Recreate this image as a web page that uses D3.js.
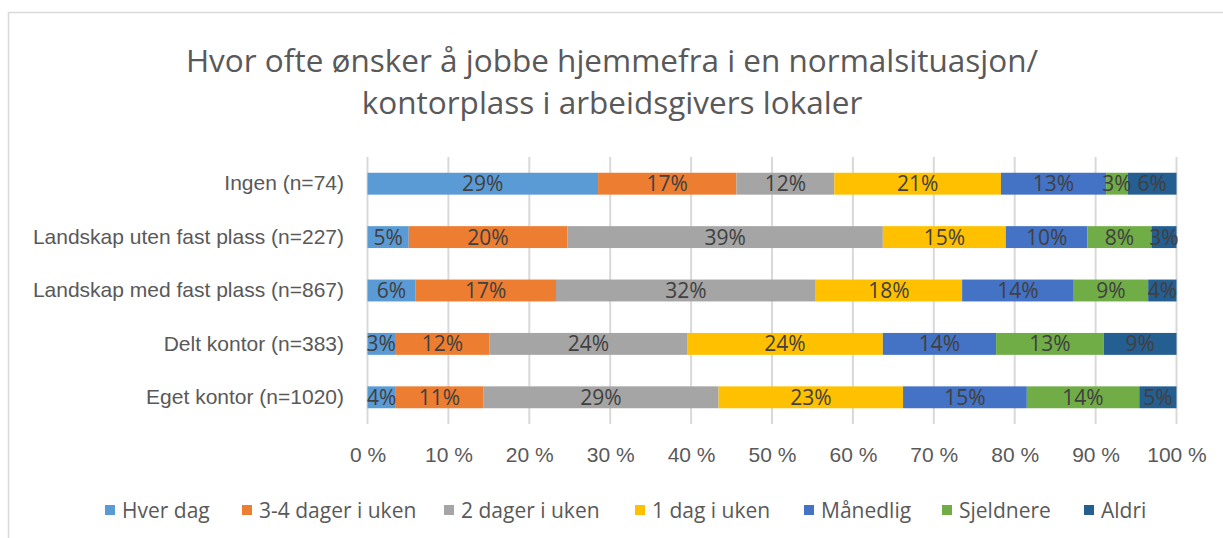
<!DOCTYPE html>
<html>
<head>
<meta charset="utf-8">
<script src="https://cdn.jsdelivr.net/npm/d3@7"></script>
<style>
  body { margin: 0; background: #fff; }
  svg { display: block; font-family: 'Open Sans', 'Noto Sans', sans-serif; }
</style>
</head>
<body>
<div class="chart"></div>
<script>
var categories = ['Ingen (n=74)', 'Landskap uten fast plass (n=227)', 'Landskap med fast plass (n=867)', 'Delt kontor (n=383)', 'Eget kontor (n=1020)'];
var seriesNames = ['Hver dag', '3-4 dager i uken', '2 dager i uken', '1 dag i uken', 'Månedlig', 'Sjeldnere', 'Aldri'];
var hverDag = [28.5, 5.1, 5.9, 3.4, 3.5];
var treFire = [17.1, 19.6, 17.4, 11.7, 10.8];
var toDager = [12.1, 39.0, 32.1, 24.4, 29.1];
var enDag = [20.6, 15.2, 18.1, 24.2, 22.8];
var maanedlig = [13.0, 10.1, 13.8, 14.0, 15.3];
var sjeldnere = [2.7, 7.9, 9.2, 13.3, 13.9];
var aldri = [6.0, 3.1, 3.5, 9.0, 4.6];
var xTicks = [0, 10, 20, 30, 40, 50, 60, 70, 80, 90, 100];

var colors = ['#5B9BD5', '#ED7D31', '#A5A5A5', '#FFC000', '#4472C4', '#70AD47', '#255E91'];
var seriesValues = [hverDag, treFire, toDager, enDag, maanedlig, sjeldnere, aldri];

var width = 1223,
  height = 538;

var svg = d3.select('.chart').append('svg')
  .attr('width', width)
  .attr('height', height);

// chart frame
svg.append('path')
  .attr('d', 'M8.5,' + height + 'V12.5H' + width)
  .attr('fill', 'none')
  .attr('stroke', '#d9d9d9')
  .attr('stroke-width', 1.5);

var title = svg.append('text')
  .attr('text-anchor', 'middle')
  .attr('fill', '#595959')
  .style('font-size', '31.5px');
title.append('tspan').attr('x', 612).attr('y', 72).text('Hvor ofte ønsker å jobbe hjemmefra i en normalsituasjon/');
title.append('tspan').attr('x', 612).attr('y', 114).text('kontorplass i arbeidsgivers lokaler');

var x = d3.scaleLinear().domain([0, 100]).range([367.5, 1176.5]);
var y = d3.scaleBand().domain(categories).range([157, 424]).paddingInner(0.59).paddingOuter(0.295);

// gridlines
svg.append('g')
  .selectAll('line')
  .data(xTicks)
  .enter()
  .append('line')
  .attr('x1', (d) => x(d))
  .attr('x2', (d) => x(d))
  .attr('y1', 157)
  .attr('y2', 424)
  .attr('stroke', '#d9d9d9')
  .attr('stroke-width', 2);

var xAxis = d3.axisBottom(x).tickValues(xTicks).tickSize(0).tickPadding(0).tickFormat((d) => d + ' %');
var gx = svg.append('g').attr('transform', 'translate(0,446)').call(xAxis);
gx.select('.domain').remove();
gx.selectAll('text').attr('fill', '#595959').style('font-size', '21px').attr('dy', '0.75em');

var yAxis = d3.axisLeft(y).tickSize(0).tickPadding(0);
var gy = svg.append('g').attr('transform', 'translate(344,0)').call(yAxis);
gy.select('.domain').remove();
gy.selectAll('text').attr('fill', '#595959').style('font-size', '21px');

var rows = categories.map((c, i) => {
  var row = { cat: c };
  seriesNames.forEach((s, j) => { row[s] = seriesValues[j][i]; });
  return row;
});
var stacked = d3.stack().keys(seriesNames)(rows);

var layers = svg.append('g')
  .selectAll('g')
  .data(stacked)
  .enter()
  .append('g')
  .attr('fill', (d, i) => colors[i]);

layers.selectAll('rect')
  .data((d) => d)
  .enter()
  .append('rect')
  .attr('x', (d) => x(d[0]))
  .attr('y', (d) => y(d.data.cat))
  .attr('width', (d) => x(d[1]) - x(d[0]))
  .attr('height', y.bandwidth());

svg.append('g')
  .selectAll('g')
  .data(stacked)
  .enter()
  .append('g')
  .selectAll('text')
  .data((d) => d)
  .enter()
  .append('text')
  .attr('x', (d) => (x(d[0]) + x(d[1])) / 2)
  .attr('y', (d) => y(d.data.cat) + y.bandwidth() / 2)
  .attr('dy', '0.36em')
  .attr('text-anchor', 'middle')
  .attr('fill', '#404040')
  .style('font-size', '21px')
  .text((d) => Math.round(d[1] - d[0]) + '%');

// legend
var legendX = [105, 242, 444, 635, 804, 942, 1084];
var legend = svg.append('g')
  .selectAll('g')
  .data(seriesNames)
  .enter()
  .append('g')
  .attr('transform', (d, i) => 'translate(' + legendX[i] + ',510)');
legend.append('rect')
  .attr('x', 0)
  .attr('y', -5)
  .attr('width', 10)
  .attr('height', 10)
  .attr('fill', (d, i) => colors[i]);
legend.append('text')
  .attr('x', 17)
  .attr('dy', '0.36em')
  .attr('fill', '#595959')
  .style('font-size', '21px')
  .text((d) => d);
</script>
</body>
</html>
